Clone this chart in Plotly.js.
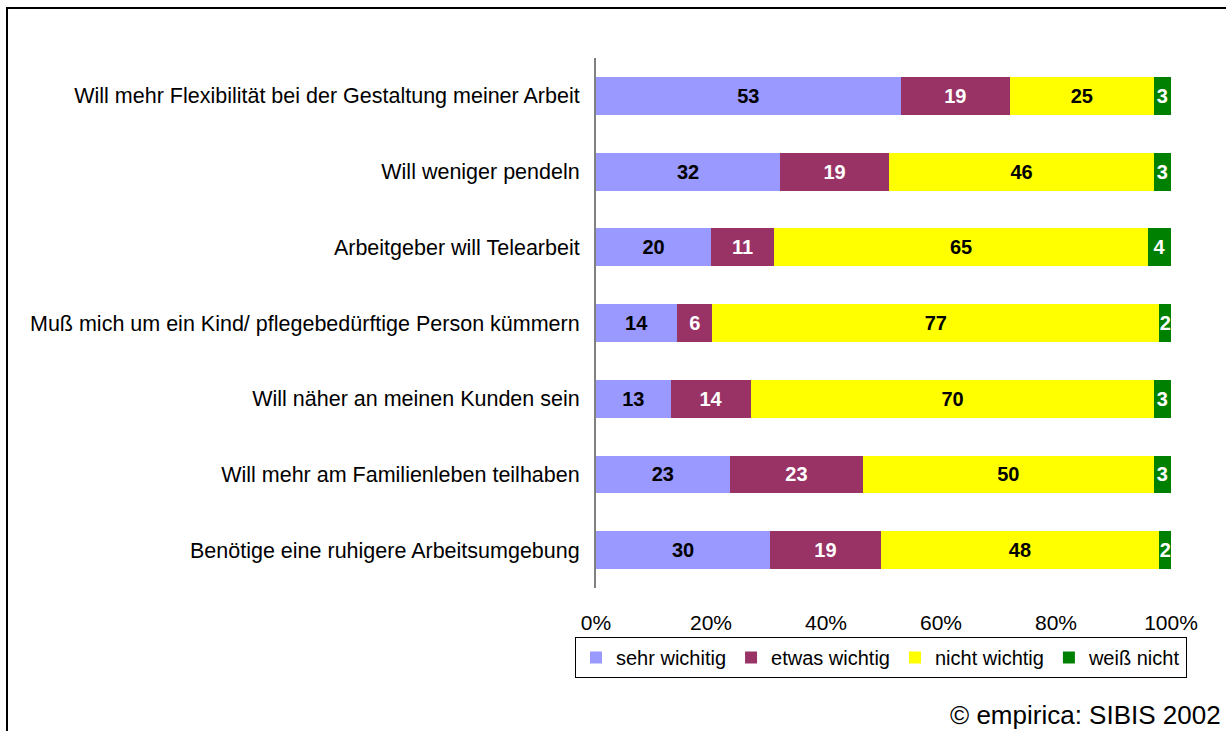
<!DOCTYPE html>
<html>
<head>
<meta charset="utf-8">
<script src="https://cdn.plot.ly/plotly-3.0.1.min.js"></script>
<style>
html,body{margin:0;padding:0;background:#fff;}
#chart{width:1226px;height:731px;}
</style>
</head>
<body>
<div id="chart"></div>
<script>
const categories = [
  "Will mehr Flexibilität bei der Gestaltung meiner Arbeit",
  "Will weniger pendeln",
  "Arbeitgeber will Telearbeit",
  "Muß mich um ein Kind/ pflegebedürftige Person kümmern",
  "Will näher an meinen Kunden sein",
  "Will mehr am Familienleben teilhaben",
  "Benötige eine ruhigere Arbeitsumgebung"
];
const seriesNames = ["sehr wichitig", "etwas wichtig", "nicht wichtig", "weiß nicht"];
const sehrWichtig   = [53, 32, 20, 14, 13, 23, 30];
const etwasWichtig  = [19, 19, 11, 6, 14, 23, 19];
const nichtWichtig  = [25, 46, 65, 77, 70, 50, 48];
const weissNicht    = [3, 3, 4, 2, 3, 3, 2];
const xTickVals = [0, 20, 40, 60, 80, 100];
const xTickText = ["0%", "20%", "40%", "60%", "80%", "100%"];
const sourceNote = "© empirica: SIBIS 2002";

const colors = ["#9999FF", "#993366", "#FFFF00", "#008000"];
const textColors = ["#000000", "#FFFFFF", "#000000", "#FFFFFF"];
const allSeries = [sehrWichtig, etwasWichtig, nichtWichtig, weissNicht];

const FONT = "Liberation Sans, Arial, sans-serif";

const traces = allSeries.map((vals, i) => ({
  type: "bar",
  orientation: "h",
  name: seriesNames[i],
  y: categories,
  x: vals,
  text: vals.map(String),
  texttemplate: "%{text}",
  textposition: "inside",
  insidetextanchor: "middle",
  textangle: 0,
  constraintext: "none",
  textfont: {family: FONT, size: 20, color: textColors[i], weight: "bold"},
  marker: {color: colors[i], line: {width: 0}},
  hoverinfo: "skip"
}));

// plot area geometry (pixels)
const W = 1226, H = 731;
const mL = 596, mR = 55, mT = 58, mB = 143;
const pw = W - mL - mR, ph = H - mT - mB;
const px = v => (v - mL) / pw;
const py = v => (H - mB - v) / ph;

const layout = {
  width: W, height: H,
  margin: {l: mL, r: mR, t: mT, b: mB, pad: 0},
  paper_bgcolor: "#fff",
  plot_bgcolor: "#fff",
  barmode: "stack",
  barnorm: "percent",
  bargap: 0.5,
  font: {family: FONT, size: 21, color: "#000"},
  showlegend: true,
  legend: {
    orientation: "h",
    x: px(575), xanchor: "left",
    y: py(637), yanchor: "top",
    bordercolor: "#000", borderwidth: 1,
    font: {family: FONT, size: 20, color: "#000"},
    traceorder: "normal",
    itemwidth: 30
  },
  xaxis: {
    range: [0, 100],
    tickvals: xTickVals,
    ticktext: xTickText,
    showgrid: false,
    zeroline: false,
    showline: false,
    ticks: "outside",
    ticklen: 16,
    tickcolor: "rgba(0,0,0,0)",
    tickfont: {family: FONT, size: 21, color: "#000"},
    fixedrange: true
  },
  yaxis: {
    autorange: "reversed",
    showgrid: false,
    zeroline: false,
    showline: true,
    linecolor: "#808080",
    linewidth: 2,
    ticks: "outside",
    ticklen: 10,
    tickcolor: "rgba(0,0,0,0)",
    tickfont: {family: FONT, size: 21.5, color: "#000"},
    fixedrange: true
  },
  shapes: [{
    type: "rect", xref: "paper", yref: "paper",
    x0: px(7), x1: px(1260), y0: py(8), y1: py(780),
    line: {color: "#000", width: 2}, fillcolor: "rgba(0,0,0,0)", layer: "below"
  }],
  annotations: [{
    xref: "paper", yref: "paper",
    x: px(1223), y: py(715),
    xanchor: "right", yanchor: "middle",
    text: sourceNote, showarrow: false,
    font: {family: FONT, size: 26, color: "#000"}
  }]
};

Plotly.newPlot("chart", traces, layout, {displayModeBar: false, staticPlot: true});
</script>
</body>
</html>
